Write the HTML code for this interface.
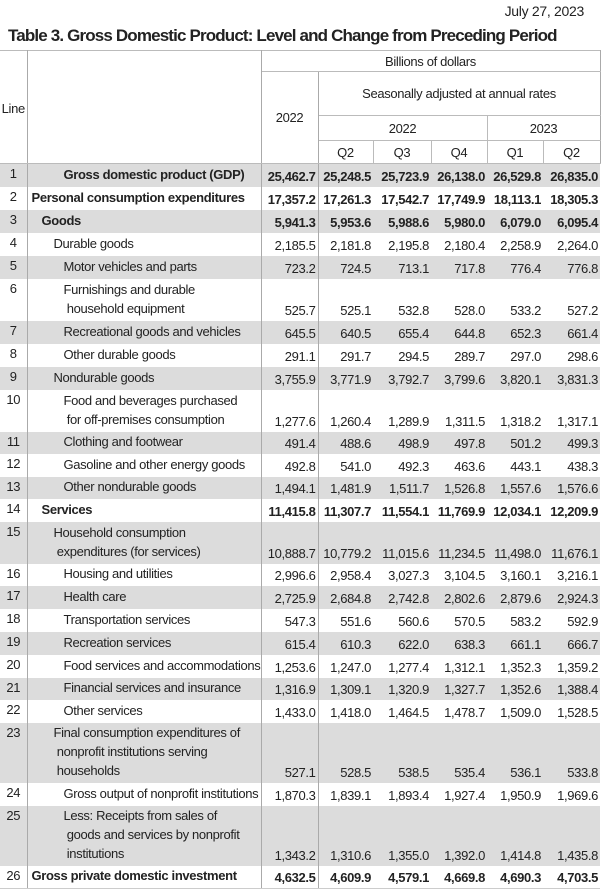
<!DOCTYPE html>
<html><head><meta charset="utf-8"><style>
body{margin:0;background:#fff;width:602px;height:893px;overflow:hidden;font-family:"Liberation Sans",Arial,sans-serif;color:#222;position:relative}
.date{position:absolute;right:18px;top:3px;font-size:14px;letter-spacing:-0.3px}
.title{position:absolute;left:8px;top:26px;font-size:17px;font-weight:bold;letter-spacing:-0.85px;white-space:nowrap}
table{position:absolute;left:0;top:50px;border-collapse:collapse;table-layout:fixed;font-size:13px;letter-spacing:-0.35px}
td{padding:0;white-space:nowrap;vertical-align:bottom}
td.n{text-align:center;vertical-align:top;padding-top:2px;border-right:1px solid #aaa;font-weight:normal!important}
td.l{border-right:1px solid #aaa}
td.v{text-align:right;padding-right:2px;padding-bottom:3px}
td.v1{border-right:1px solid #aaa}
tr.g td{background:#dcdcdc}
tr.b td{font-weight:bold}
.h td{text-align:center;vertical-align:middle;border-bottom:1px solid #bbb}
.lbl{padding-bottom:3px;line-height:19px}
</style></head><body>
<div class="date">July 27, 2023</div>
<div class="title">Table 3. Gross Domestic Product: Level and Change from Preceding Period</div>
<table>
<colgroup><col style="width:27px"><col style="width:234px"><col style="width:57px"><col style="width:55px"><col style="width:58px"><col style="width:56px"><col style="width:56px"><col style="width:57px"></colgroup>
<tr class="h" style="height:21px"><td class="n" rowspan="4" style="vertical-align:middle;border-top:1px solid #bbb">Line</td><td class="l" rowspan="4" style="border-top:1px solid #bbb"></td><td colspan="6" style="border-top:1px solid #bbb;border-right:1px solid #aaa">Billions of dollars</td></tr>
<tr class="h" style="height:44px"><td rowspan="3" class="v1" style="border-right:1px solid #aaa">2022</td><td colspan="5" style="border-right:1px solid #aaa">Seasonally adjusted at annual rates</td></tr>
<tr class="h" style="height:25px"><td colspan="3" style="border-right:1px solid #bbb">2022</td><td colspan="2" style="border-right:1px solid #aaa">2023</td></tr>
<tr class="h" style="height:23px"><td style="border-right:1px solid #bbb">Q2</td><td style="border-right:1px solid #bbb">Q3</td><td style="border-right:1px solid #bbb">Q4</td><td style="border-right:1px solid #bbb">Q1</td><td style="border-right:1px solid #aaa">Q2</td></tr>

<tr class="g b" style="height:23px"><td class="n">1</td><td class="l lbl" style="padding-left:36px">Gross domestic product (GDP)</td><td class="v v1">25,462.7</td><td class="v">25,248.5</td><td class="v">25,723.9</td><td class="v">26,138.0</td><td class="v">26,529.8</td><td class="v">26,835.0</td></tr>
<tr class="b" style="height:23px"><td class="n">2</td><td class="l lbl" style="padding-left:4px">Personal consumption expenditures</td><td class="v v1">17,357.2</td><td class="v">17,261.3</td><td class="v">17,542.7</td><td class="v">17,749.9</td><td class="v">18,113.1</td><td class="v">18,305.3</td></tr>
<tr class="g b" style="height:23px"><td class="n">3</td><td class="l lbl" style="padding-left:14px">Goods</td><td class="v v1">5,941.3</td><td class="v">5,953.6</td><td class="v">5,988.6</td><td class="v">5,980.0</td><td class="v">6,079.0</td><td class="v">6,095.4</td></tr>
<tr style="height:23px"><td class="n">4</td><td class="l lbl" style="padding-left:26px">Durable goods</td><td class="v v1">2,185.5</td><td class="v">2,181.8</td><td class="v">2,195.8</td><td class="v">2,180.4</td><td class="v">2,258.9</td><td class="v">2,264.0</td></tr>
<tr class="g" style="height:23px"><td class="n">5</td><td class="l lbl" style="padding-left:36px">Motor vehicles and parts</td><td class="v v1">723.2</td><td class="v">724.5</td><td class="v">713.1</td><td class="v">717.8</td><td class="v">776.4</td><td class="v">776.8</td></tr>
<tr style="height:42px"><td class="n">6</td><td class="l lbl" style="padding-left:36px">Furnishings and durable<br>&nbsp;household equipment</td><td class="v v1">525.7</td><td class="v">525.1</td><td class="v">532.8</td><td class="v">528.0</td><td class="v">533.2</td><td class="v">527.2</td></tr>
<tr class="g" style="height:23px"><td class="n">7</td><td class="l lbl" style="padding-left:36px">Recreational goods and vehicles</td><td class="v v1">645.5</td><td class="v">640.5</td><td class="v">655.4</td><td class="v">644.8</td><td class="v">652.3</td><td class="v">661.4</td></tr>
<tr style="height:23px"><td class="n">8</td><td class="l lbl" style="padding-left:36px">Other durable goods</td><td class="v v1">291.1</td><td class="v">291.7</td><td class="v">294.5</td><td class="v">289.7</td><td class="v">297.0</td><td class="v">298.6</td></tr>
<tr class="g" style="height:23px"><td class="n">9</td><td class="l lbl" style="padding-left:26px">Nondurable goods</td><td class="v v1">3,755.9</td><td class="v">3,771.9</td><td class="v">3,792.7</td><td class="v">3,799.6</td><td class="v">3,820.1</td><td class="v">3,831.3</td></tr>
<tr style="height:42px"><td class="n">10</td><td class="l lbl" style="padding-left:36px">Food and beverages purchased<br>&nbsp;for off-premises consumption</td><td class="v v1">1,277.6</td><td class="v">1,260.4</td><td class="v">1,289.9</td><td class="v">1,311.5</td><td class="v">1,318.2</td><td class="v">1,317.1</td></tr>
<tr class="g" style="height:22px"><td class="n">11</td><td class="l lbl" style="padding-left:36px">Clothing and footwear</td><td class="v v1">491.4</td><td class="v">488.6</td><td class="v">498.9</td><td class="v">497.8</td><td class="v">501.2</td><td class="v">499.3</td></tr>
<tr style="height:23px"><td class="n">12</td><td class="l lbl" style="padding-left:36px">Gasoline and other energy goods</td><td class="v v1">492.8</td><td class="v">541.0</td><td class="v">492.3</td><td class="v">463.6</td><td class="v">443.1</td><td class="v">438.3</td></tr>
<tr class="g" style="height:22px"><td class="n">13</td><td class="l lbl" style="padding-left:36px">Other nondurable goods</td><td class="v v1">1,494.1</td><td class="v">1,481.9</td><td class="v">1,511.7</td><td class="v">1,526.8</td><td class="v">1,557.6</td><td class="v">1,576.6</td></tr>
<tr class="b" style="height:23px"><td class="n">14</td><td class="l lbl" style="padding-left:14px">Services</td><td class="v v1">11,415.8</td><td class="v">11,307.7</td><td class="v">11,554.1</td><td class="v">11,769.9</td><td class="v">12,034.1</td><td class="v">12,209.9</td></tr>
<tr class="g" style="height:42px"><td class="n">15</td><td class="l lbl" style="padding-left:26px">Household consumption<br>&nbsp;expenditures (for services)</td><td class="v v1">10,888.7</td><td class="v">10,779.2</td><td class="v">11,015.6</td><td class="v">11,234.5</td><td class="v">11,498.0</td><td class="v">11,676.1</td></tr>
<tr style="height:22px"><td class="n">16</td><td class="l lbl" style="padding-left:36px">Housing and utilities</td><td class="v v1">2,996.6</td><td class="v">2,958.4</td><td class="v">3,027.3</td><td class="v">3,104.5</td><td class="v">3,160.1</td><td class="v">3,216.1</td></tr>
<tr class="g" style="height:23px"><td class="n">17</td><td class="l lbl" style="padding-left:36px">Health care</td><td class="v v1">2,725.9</td><td class="v">2,684.8</td><td class="v">2,742.8</td><td class="v">2,802.6</td><td class="v">2,879.6</td><td class="v">2,924.3</td></tr>
<tr style="height:23px"><td class="n">18</td><td class="l lbl" style="padding-left:36px">Transportation services</td><td class="v v1">547.3</td><td class="v">551.6</td><td class="v">560.6</td><td class="v">570.5</td><td class="v">583.2</td><td class="v">592.9</td></tr>
<tr class="g" style="height:23px"><td class="n">19</td><td class="l lbl" style="padding-left:36px">Recreation services</td><td class="v v1">615.4</td><td class="v">610.3</td><td class="v">622.0</td><td class="v">638.3</td><td class="v">661.1</td><td class="v">666.7</td></tr>
<tr style="height:23px"><td class="n">20</td><td class="l lbl" style="padding-left:36px">Food services and accommodations</td><td class="v v1">1,253.6</td><td class="v">1,247.0</td><td class="v">1,277.4</td><td class="v">1,312.1</td><td class="v">1,352.3</td><td class="v">1,359.2</td></tr>
<tr class="g" style="height:22px"><td class="n">21</td><td class="l lbl" style="padding-left:36px">Financial services and insurance</td><td class="v v1">1,316.9</td><td class="v">1,309.1</td><td class="v">1,320.9</td><td class="v">1,327.7</td><td class="v">1,352.6</td><td class="v">1,388.4</td></tr>
<tr style="height:23px"><td class="n">22</td><td class="l lbl" style="padding-left:36px">Other services</td><td class="v v1">1,433.0</td><td class="v">1,418.0</td><td class="v">1,464.5</td><td class="v">1,478.7</td><td class="v">1,509.0</td><td class="v">1,528.5</td></tr>
<tr class="g" style="height:58px"><td class="n">23</td><td class="l lbl" style="padding-left:26px">Final consumption expenditures of<br>&nbsp;nonprofit institutions serving<br>&nbsp;households</td><td class="v v1">527.1</td><td class="v">528.5</td><td class="v">538.5</td><td class="v">535.4</td><td class="v">536.1</td><td class="v">533.8</td></tr>
<tr style="height:23px"><td class="n">24</td><td class="l lbl" style="padding-left:36px">Gross output of nonprofit institutions</td><td class="v v1">1,870.3</td><td class="v">1,839.1</td><td class="v">1,893.4</td><td class="v">1,927.4</td><td class="v">1,950.9</td><td class="v">1,969.6</td></tr>
<tr class="g" style="height:55px"><td class="n">25</td><td class="l lbl" style="padding-left:36px">Less: Receipts from sales of<br>&nbsp;goods and services by nonprofit<br>&nbsp;institutions</td><td class="v v1">1,343.2</td><td class="v">1,310.6</td><td class="v">1,355.0</td><td class="v">1,392.0</td><td class="v">1,414.8</td><td class="v">1,435.8</td></tr>
<tr class="b" style="height:23px"><td class="n" style="border-bottom:1px solid #ccc">26</td><td class="l lbl" style="padding-left:4px;border-bottom:1px solid #ccc">Gross private domestic investment</td><td class="v v1" style="border-bottom:1px solid #ccc">4,632.5</td><td class="v" style="border-bottom:1px solid #ccc">4,609.9</td><td class="v" style="border-bottom:1px solid #ccc">4,579.1</td><td class="v" style="border-bottom:1px solid #ccc">4,669.8</td><td class="v" style="border-bottom:1px solid #ccc">4,690.3</td><td class="v" style="border-bottom:1px solid #ccc">4,703.5</td></tr>
</table>
</body></html>
